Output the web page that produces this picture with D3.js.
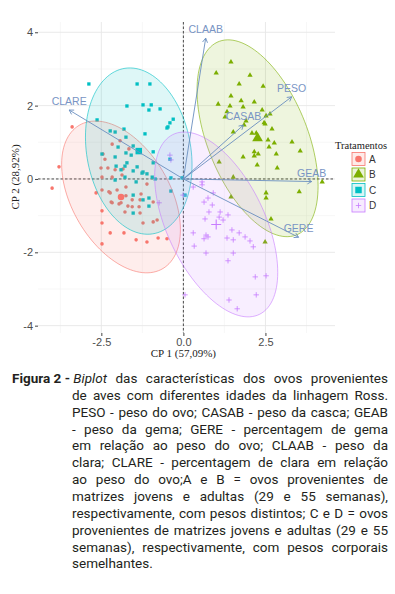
<!DOCTYPE html>
<html>
<head>
<meta charset="utf-8">
<script src="https://cdn.jsdelivr.net/npm/d3@7"></script>
<style>
  html, body { margin: 0; padding: 0; background: #fff; }
  svg { display: block; }
</style>
</head>
<body>
<div id="chart"></div>
<script>
const groups = ["A", "B", "C", "D"];

// individual scores (CP 1, CP 2) per treatment
const pointsA = [
  [-3.39, 1.42], [-3.79, 0.33], [-4.00, -0.25], [-2.17, 0.95], [-1.93, 1.04], [-2.45, 0.68],
  [-2.39, 0.54], [-2.51, 0.30], [-2.30, 0.30], [-2.48, 0.05], [-2.17, 0.05], [-1.87, 0.11],
  [-2.02, -0.30], [-2.27, -0.35], [-2.66, -0.38], [-1.75, -0.22], [-1.75, -0.46], [-1.56, -0.57],
  [-2.17, -0.65], [-1.96, -0.68], [-1.69, -0.74], [-1.32, -0.57], [-1.35, -0.76], [-1.11, -0.14],
  [-2.48, -0.30], [-2.23, -0.38], [-2.48, -0.87], [-2.20, -0.63], [-1.90, -0.65], [-1.56, -0.76],
  [-1.29, -0.41], [-1.78, -0.90], [-1.32, -0.93], [-1.23, -1.20], [-0.92, -1.17], [-2.48, -1.20],
  [-2.23, -1.47], [-1.81, -1.47], [-2.48, -1.77], [-1.44, -1.66], [-1.11, -1.72], [-0.77, -1.61],
  [-0.50, -1.63], [-0.92, -0.63], [-1.66, 0.82], [-2.08, 0.25], [-1.84, 0.27], [-0.80, -1.12]
];
const pointsB = [
  [1.45, 3.19], [1.00, 2.89], [2.03, 2.83], [1.70, 2.59], [2.43, 2.53], [1.45, 2.26],
  [1.06, 2.04], [1.76, 2.13], [2.16, 2.10], [1.42, 1.99], [1.82, 1.96], [2.40, 1.88],
  [1.33, 1.83], [1.27, 1.69], [2.52, 1.72], [2.64, 1.77], [1.91, 1.58], [1.85, 1.47],
  [2.46, 1.53], [2.70, 1.36], [1.52, 1.28], [2.09, 1.25], [2.22, 1.25], [2.58, 1.06],
  [2.77, 0.98], [3.31, 1.01], [3.56, 0.76], [2.61, 0.87], [2.16, 0.74], [2.28, 0.68],
  [2.16, 0.63], [1.82, 0.60], [2.83, 0.68], [1.09, 0.46], [2.25, 0.38], [2.86, 0.30],
  [1.52, 0.05], [2.52, -0.38], [2.52, -0.52], [3.53, -0.35], [4.23, -0.08], [1.45, -0.49],
  [2.67, -1.09], [2.49, -1.72], [2.49, 1.50]
];
const pointsC = [
  [-2.88, 2.59], [-1.41, 2.59], [-1.02, 2.59], [-1.72, 1.99], [-1.23, 2.02], [-0.98, 2.02],
  [-1.05, 1.88], [-0.71, 1.91], [-0.31, 1.63], [-0.41, 1.53], [-0.50, 1.39], [-2.63, 1.61],
  [-2.23, 1.31], [-2.08, 1.28], [-1.81, 1.36], [-1.75, 1.14], [-1.17, 1.23], [-1.53, 0.90],
  [-1.99, 0.87], [-2.48, 0.68], [-2.08, 0.60], [-1.75, 0.71], [-1.59, 0.65], [-0.92, 0.74],
  [-1.72, 0.44], [-1.78, 0.35], [-2.05, 0.35], [-1.90, 0.25], [-1.41, 0.33], [-1.53, 0.22],
  [-1.23, 0.19], [-1.11, 0.14], [-0.95, 0.05], [-0.86, 0.00], [-0.92, 0.44], [-0.41, 0.54],
  [-0.38, 0.03], [-1.53, -0.44], [-1.05, -0.52], [-1.05, -0.74], [-1.53, -0.93], [-2.08, -0.03],
  [-1.78, 0.05], [-1.44, -0.08], [-1.26, 0.16], [-1.23, -0.57], [-0.38, -0.33], [-0.47, 1.42],
  [-0.04, 0.03], [0.05, -0.44]
];
const pointsD = [
  [-0.41, 0.65], [-0.38, 0.52], [-0.74, -0.65], [-0.01, -0.44], [0.57, -0.16], [0.91, -0.38],
  [0.63, -0.63], [0.75, -0.52], [0.88, -0.71], [1.12, -0.90], [0.78, -0.90], [0.66, -1.09],
  [1.21, -1.12], [1.36, -0.98], [1.09, -1.04], [0.30, -1.47], [0.69, -1.53], [0.75, -1.58],
  [0.63, -1.63], [1.33, -1.61], [1.52, -1.66], [1.48, -1.39], [1.70, -1.47], [1.88, -1.58],
  [2.03, -1.69], [2.13, -1.85], [0.33, -1.83], [1.52, -2.02], [0.69, -2.02], [1.36, -2.23],
  [2.19, -2.67], [2.52, -2.64], [2.22, -3.16], [1.39, -3.30], [1.64, -3.54], [0.05, -3.16],
  [0.30, -0.22], [0.57, -0.08]
];

// group means and ellipse spread (variance x, variance y, covariance)
const meanX = [-1.90, 2.26, -1.36, 1.00];
const meanY = [-0.49, 1.11, 0.76, -1.24];
const ellVarX = [3.275, 3.402, 2.636, 3.516];
const ellVarY = [4.282, 7.203, 5.141, 6.352];
const ellCov = [-1.614, -2.409, -0.618, -2.451];

// variable loadings
const varNames = ["CLARE", "CLAAB", "PESO", "CASAB", "GEAB", "GERE"];
const varX = [-3.48, 0.68, 3.30, 1.83, 3.91, 3.51];
const varY = [1.88, 3.84, 2.24, 1.47, -0.07, -1.59];

const xTicks = [-2.5, 0, 2.5];
const xMinorTicks = [-3.75, -1.25, 1.25, 3.75];
const yTicks = [-4, -2, 0, 2, 4];
const yMinorTicks = [-3, -1, 1, 3];

const xTitle = "CP 1 (57,09%)";
const yTitle = "CP 2 (28,92%)";
const legendTitle = "Tratamentos";

const captionLabel = "Figura 2 -";
const captionItalic = ["Biplot"];
const captionLines = [
  "Biplot das características dos ovos provenientes",
  "de aves com diferentes idades da linhagem Ross.",
  "PESO - peso do ovo; CASAB - peso da casca; GEAB",
  "- peso da gema; GERE - percentagem de gema",
  "em relação ao peso do ovo; CLAAB - peso da",
  "clara; CLARE - percentagem de clara em relação",
  "ao peso do ovo;A e B = ovos provenientes de",
  "matrizes jovens e adultas (29 e 55 semanas),",
  "respectivamente, com pesos distintos; C e D = ovos",
  "provenientes de matrizes jovens e adultas (29 e 55",
  "semanas), respectivamente, com pesos corporais",
  "semelhantes."
];

function biplot() {
  const WIDTH = 395, HEIGHT = 594;
  const panel = { left: 38, right: 335, top: 22, bottom: 333 };
  const COLORS = ["#F8766D", "#7CAE00", "#00BFC4", "#C77CFF"];
  const VAR_COLOR = "#6a8fc0";
  const SANS = "'Liberation Sans', Arial, sans-serif";
  const SERIF = "'Liberation Serif', 'Times New Roman', serif";
  const allPoints = [pointsA, pointsB, pointsC, pointsD];

  const x = d3.scaleLinear().domain([-4.43, 4.62]).range([panel.left, panel.right]);
  const y = d3.scaleLinear().domain([-4.2, 4.28]).range([panel.bottom, panel.top]);

  const svg = d3.select("#chart")
    .append("svg")
    .attr("width", WIDTH)
    .attr("height", HEIGHT);

  // grid
  const grid = svg.append("g");
  grid.selectAll(".vminor").data(xMinorTicks).enter().append("line")
    .attr("x1", d => x(d)).attr("x2", d => x(d))
    .attr("y1", panel.top).attr("y2", panel.bottom)
    .attr("stroke", "#f2f2f2").attr("stroke-width", 0.6);
  grid.selectAll(".hminor").data(yMinorTicks).enter().append("line")
    .attr("y1", d => y(d)).attr("y2", d => y(d))
    .attr("x1", panel.left).attr("x2", panel.right)
    .attr("stroke", "#f2f2f2").attr("stroke-width", 0.6);
  grid.selectAll(".vmajor").data(xTicks).enter().append("line")
    .attr("x1", d => x(d)).attr("x2", d => x(d))
    .attr("y1", panel.top).attr("y2", panel.bottom)
    .attr("stroke", "#e6e6e6").attr("stroke-width", 0.9);
  grid.selectAll(".hmajor").data(yTicks).enter().append("line")
    .attr("y1", d => y(d)).attr("y2", d => y(d))
    .attr("x1", panel.left).attr("x2", panel.right)
    .attr("stroke", "#e6e6e6").attr("stroke-width", 0.9);

  // zero lines
  svg.append("line")
    .attr("x1", x(0)).attr("x2", x(0)).attr("y1", panel.top).attr("y2", panel.bottom)
    .attr("stroke", "#222").attr("stroke-width", 0.8).attr("stroke-dasharray", "2.5,2");
  svg.append("line")
    .attr("y1", y(0)).attr("y2", y(0)).attr("x1", panel.left).attr("x2", panel.right)
    .attr("stroke", "#222").attr("stroke-width", 0.8).attr("stroke-dasharray", "2.5,2");

  function marker(sel, i, big) {
    if (i === 3) {
      const r = big ? 5 : 2.7;
      sel.append("path")
        .attr("d", `M${-r},0H${r}M0,${-r}V${r}`)
        .attr("stroke", COLORS[i]).attr("stroke-width", big ? 1.1 : 0.8).attr("fill", "none");
      return;
    }
    const type = [d3.symbolCircle, d3.symbolTriangle, d3.symbolSquare][i];
    const area = big ? [34, 50, 42][i] : [10, 12, 11][i];
    sel.append("path")
      .attr("d", d3.symbol().type(type).size(area)())
      .attr("fill", COLORS[i]);
  }

  // points
  allPoints.forEach((pts, i) => {
    const g = svg.append("g");
    pts.forEach(d => {
      marker(g.append("g").attr("transform", `translate(${x(d[0])},${y(d[1])})`), i, false);
    });
  });

  // ellipses
  const line = d3.line();
  groups.forEach((grp, i) => {
    const sx = Math.sqrt(ellVarX[i]);
    const l21 = ellCov[i] / sx;
    const l22 = Math.sqrt(ellVarY[i] - l21 * l21);
    const ring = d3.range(0, 121).map(k => {
      const t = 2 * Math.PI * k / 120;
      return [x(meanX[i] + sx * Math.cos(t)), y(meanY[i] + l21 * Math.cos(t) + l22 * Math.sin(t))];
    });
    svg.append("path")
      .attr("d", line(ring) + "Z")
      .attr("fill", COLORS[i]).attr("fill-opacity", 0.13)
      .attr("stroke", COLORS[i]).attr("stroke-width", 0.6);
  });

  // group means
  groups.forEach((grp, i) => {
    marker(svg.append("g").attr("transform", `translate(${x(meanX[i])},${y(meanY[i])})`), i, true);
  });

  // variable arrows
  const arrows = svg.append("g");
  varNames.forEach((name, i) => {
    const x0 = x(0), y0 = y(0), x1 = x(varX[i]), y1 = y(varY[i]);
    const ang = Math.atan2(y1 - y0, x1 - x0);
    const head = 5, spread = Math.PI / 6;
    arrows.append("line")
      .attr("x1", x0).attr("y1", y0).attr("x2", x1).attr("y2", y1)
      .attr("stroke", VAR_COLOR).attr("stroke-width", 0.9);
    arrows.append("path")
      .attr("d", `M${x1 - head * Math.cos(ang - spread)},${y1 - head * Math.sin(ang - spread)}` +
                 `L${x1},${y1}` +
                 `L${x1 - head * Math.cos(ang + spread)},${y1 - head * Math.sin(ang + spread)}`)
      .attr("fill", "none").attr("stroke", VAR_COLOR).attr("stroke-width", 0.9);
    arrows.append("text")
      .attr("x", x1).attr("y", y1 - 5)
      .attr("text-anchor", "middle")
      .attr("font-family", SANS).attr("font-size", 10.5)
      .attr("fill", "#7894c4")
      .text(name);
  });

  // axes
  const xAxis = svg.append("g")
    .attr("transform", `translate(0,${panel.bottom})`)
    .call(d3.axisBottom(x).tickValues(xTicks).tickSize(3).tickPadding(2).tickFormat(d => d.toFixed(1)));
  const yAxis = svg.append("g")
    .attr("transform", `translate(${panel.left},0)`)
    .call(d3.axisLeft(y).tickValues(yTicks).tickSize(3).tickPadding(2).tickFormat(d => String(d)));
  [xAxis, yAxis].forEach(a => {
    a.select(".domain").remove();
    a.selectAll("line").attr("stroke", "#444");
    a.selectAll("text").attr("fill", "#4d4d4d").attr("font-family", SANS).attr("font-size", 11);
  });

  svg.append("text")
    .attr("x", x(0)).attr("y", 357)
    .attr("text-anchor", "middle")
    .attr("font-family", SERIF).attr("font-size", 11).attr("fill", "#222")
    .text(xTitle);
  svg.append("text")
    .attr("transform", `translate(19,${y(0) - 2}) rotate(-90)`)
    .attr("text-anchor", "middle")
    .attr("font-family", SERIF).attr("font-size", 11).attr("fill", "#222")
    .text(yTitle);

  // legend
  const legend = svg.append("g");
  legend.append("text")
    .attr("x", 361).attr("y", 149)
    .attr("text-anchor", "middle")
    .attr("font-family", SERIF).attr("font-size", 10.5).attr("fill", "#222")
    .text(legendTitle);
  groups.forEach((grp, i) => {
    const cy = 159 + i * 15.5;
    legend.append("rect")
      .attr("x", 352).attr("y", cy - 6.5).attr("width", 13).attr("height", 13)
      .attr("fill", COLORS[i]).attr("fill-opacity", 0.15)
      .attr("stroke", COLORS[i]).attr("stroke-width", 0.8);
    marker(legend.append("g").attr("transform", `translate(358.5,${cy})`), i, i !== 3);
    legend.append("text")
      .attr("x", 369).attr("y", cy + 3.5)
      .attr("font-family", SANS).attr("font-size", 10).attr("fill", "#333")
      .text(grp);
  });

  drawCaption(svg);
}

function drawCaption(svg) {
  const FONT = "Roboto, 'Open Sans', sans-serif";
  const LABEL_X = 12, LEFT = 72, RIGHT = 388;
  const TOP = 383, STEP = 16.85;
  let size = 13.5;

  const g = svg.append("g").attr("font-family", FONT).attr("fill", "#231f20");
  const probe = g.append("text");
  const measure = (s, opts = {}) => {
    probe.attr("font-size", size)
      .attr("font-style", opts.italic ? "italic" : "normal")
      .attr("font-weight", opts.bold ? "bold" : "normal")
      .text(s);
    return probe.node().getComputedTextLength();
  };

  function layout() {
    const spaceW = measure("a a") - measure("aa");
    const labelW = measure(captionLabel, { bold: true });
    const firstX = Math.max(65, LABEL_X + labelW + spaceW);
    const rows = captionLines.map((ln, i) => {
      const words = ln.split(" ").map(w => ({ text: w, italic: i === 0 && captionItalic.includes(w) }));
      words.forEach(w => w.width = measure(w.text, { italic: w.italic }));
      const start = i === 0 ? firstX : LEFT;
      const natural = d3.sum(words, w => w.width) + spaceW * (words.length - 1);
      return { words, start, natural, avail: RIGHT - start };
    });
    return { rows, spaceW };
  }

  let res = layout();
  const fit = d3.min(res.rows, r => r.avail / r.natural);
  if (fit < 1) {
    size = size * fit * 0.995;
    res = layout();
  }

  g.append("text")
    .attr("x", LABEL_X).attr("y", TOP)
    .attr("font-size", size).attr("font-weight", "bold")
    .text(captionLabel);

  res.rows.forEach((row, i) => {
    const last = i === res.rows.length - 1;
    const total = d3.sum(row.words, w => w.width);
    const gap = last || row.words.length < 2
      ? res.spaceW
      : (RIGHT - row.start - total) / (row.words.length - 1);
    let cx = row.start;
    row.words.forEach(w => {
      g.append("text")
        .attr("x", cx).attr("y", TOP + i * STEP)
        .attr("font-size", size)
        .attr("font-style", w.italic ? "italic" : "normal")
        .text(w.text);
      cx += w.width + gap;
    });
  });
  probe.remove();
}

biplot();
</script>
</body>
</html>
